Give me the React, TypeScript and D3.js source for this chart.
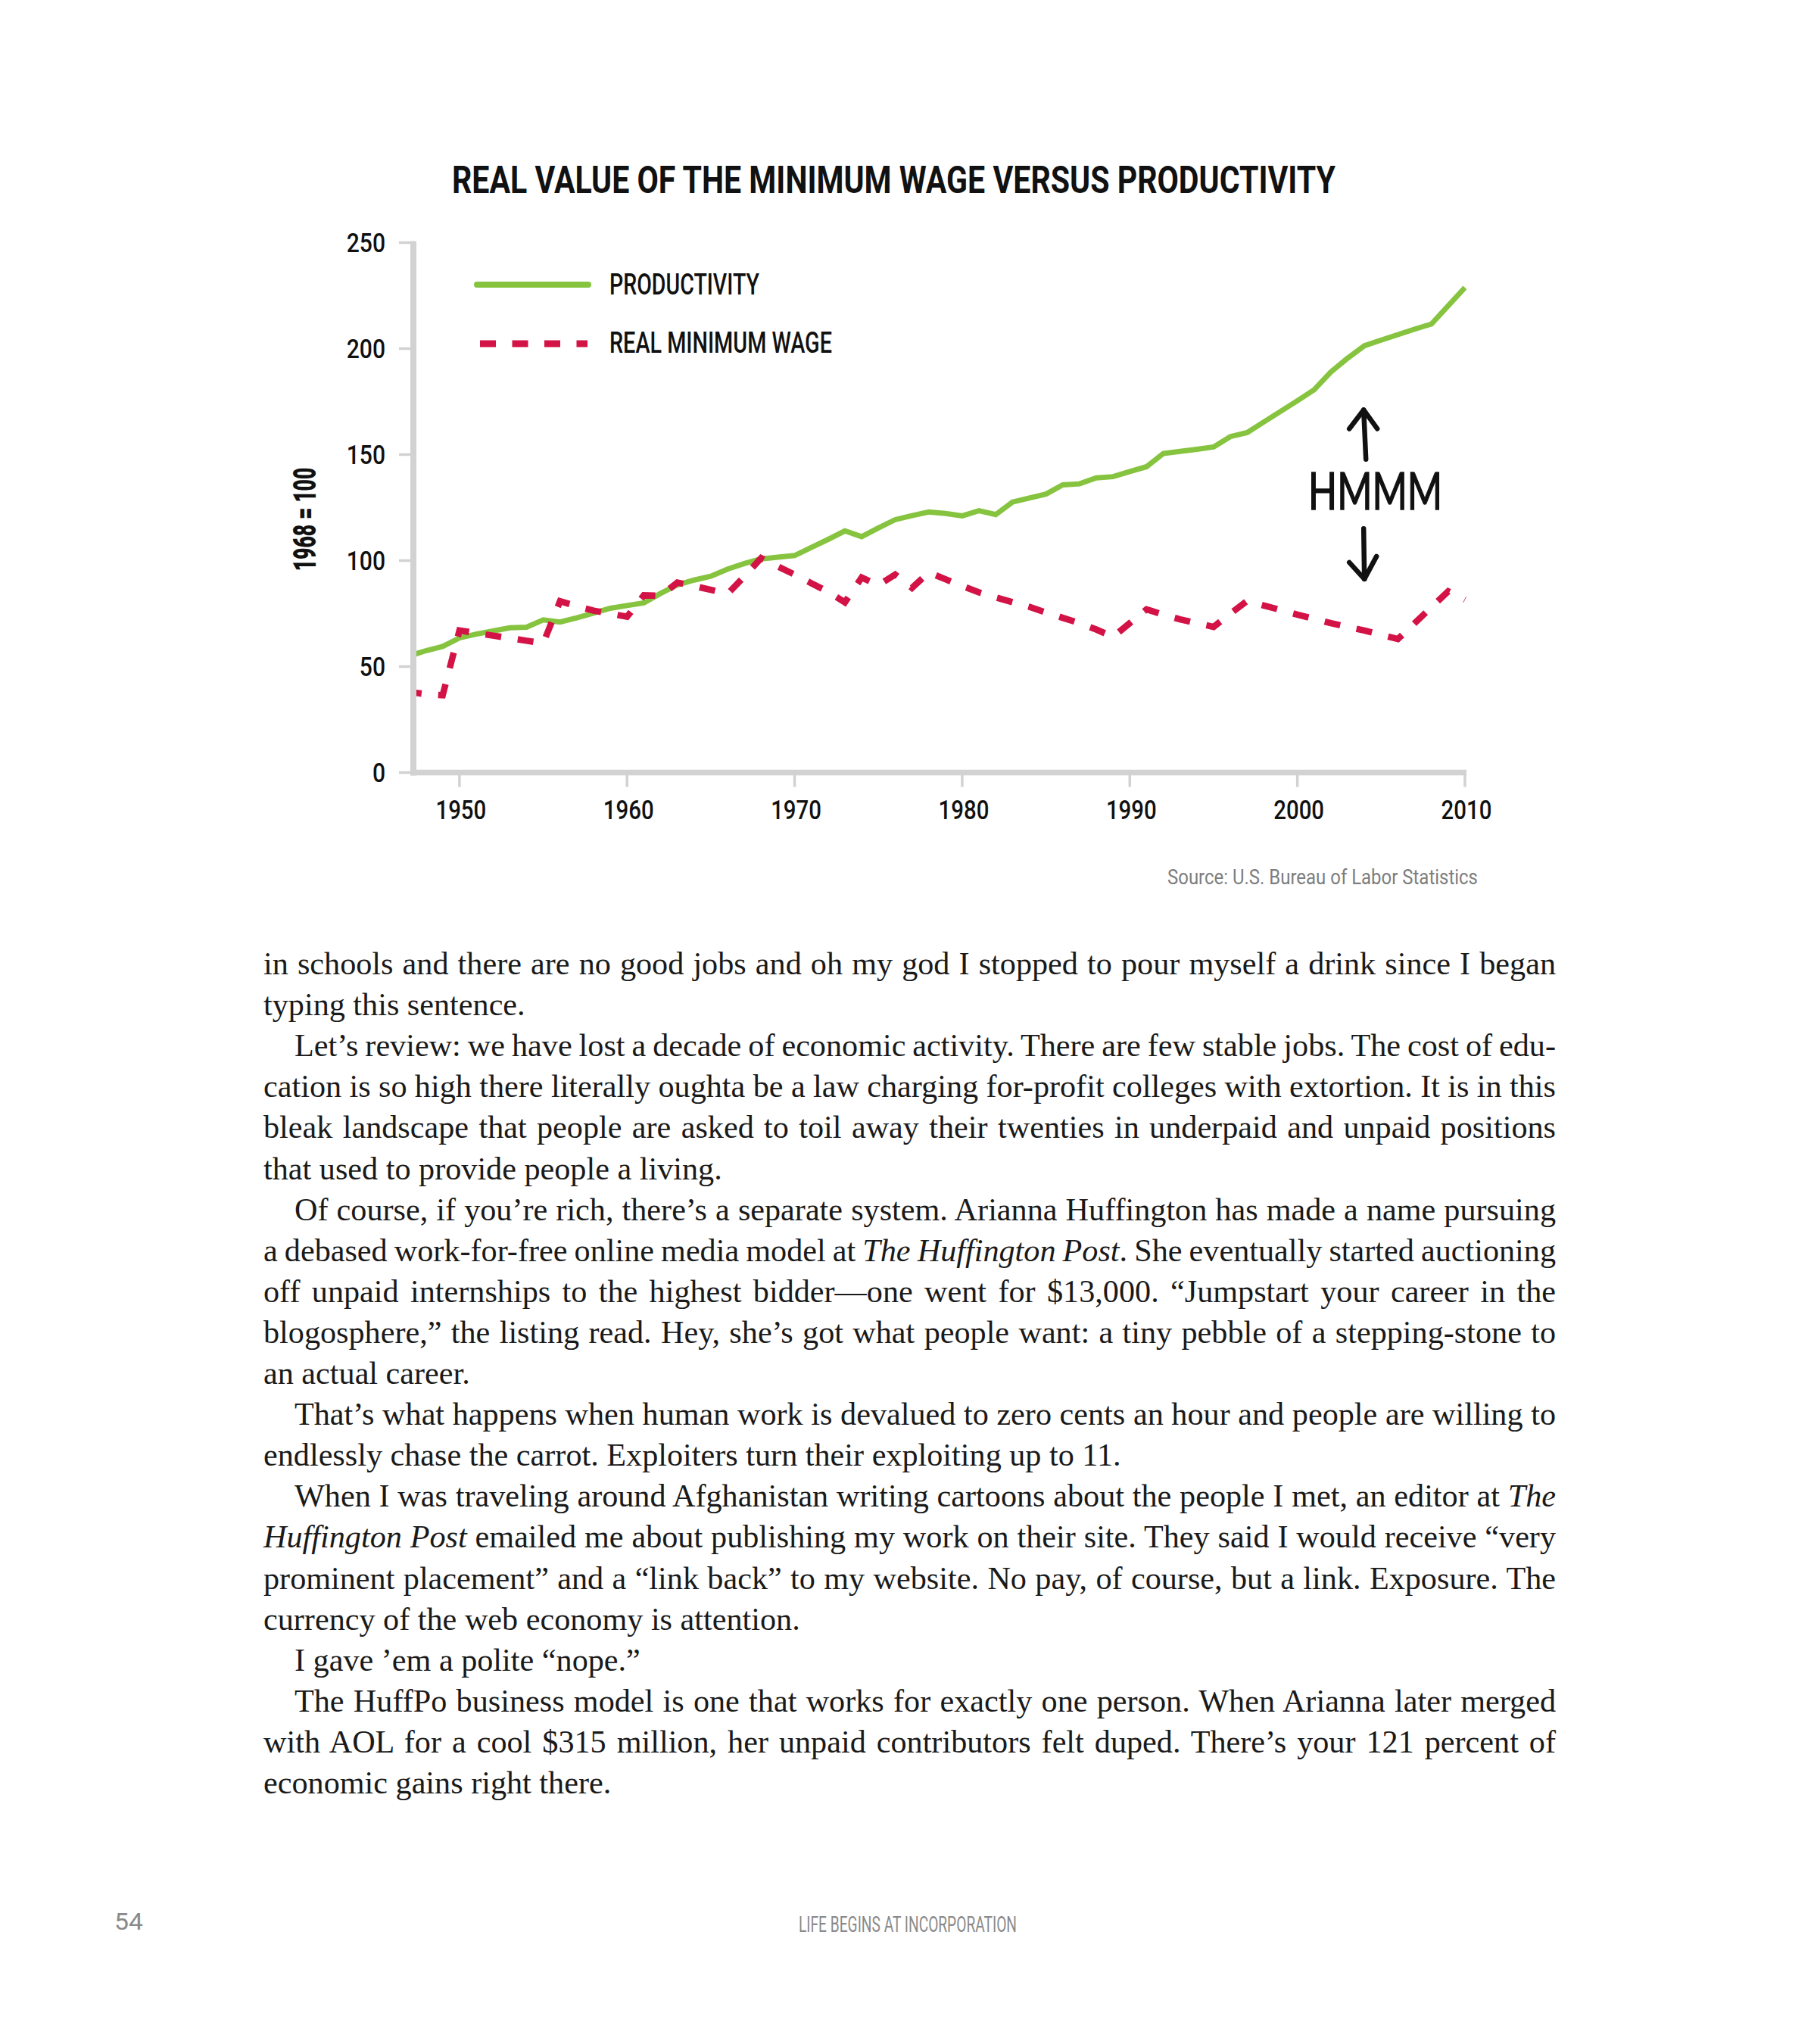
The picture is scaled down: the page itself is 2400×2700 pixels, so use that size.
import React, { useLayoutEffect, useRef } from 'react';
import * as d3 from 'd3';

// ---------------- DATA ----------------
const years = [
  1947, 1948, 1949, 1950, 1951, 1952, 1953, 1954, 1955, 1956,
  1957, 1958, 1959, 1960, 1961, 1962, 1963, 1964, 1965, 1966,
  1967, 1968, 1969, 1970, 1971, 1972, 1973, 1974, 1975, 1976,
  1977, 1978, 1979, 1980, 1981, 1982, 1983, 1984, 1985, 1986,
  1987, 1988, 1989, 1990, 1991, 1992, 1993, 1994, 1995, 1996,
  1997, 1998, 1999, 2000, 2001, 2002, 2003, 2004, 2005, 2006,
  2007, 2008, 2009, 2010,
];

const productivity = [
  55.0, 57.5, 59.5, 63.5, 65.3, 66.8, 68.3, 68.6, 72.0, 71.0,
  73.0, 75.2, 77.5, 78.8, 80.0, 84.5, 88.5, 90.8, 92.6, 96.0,
  98.6, 100.8, 101.6, 102.4, 106.2, 110.0, 114.0, 111.3, 115.4, 119.3,
  121.2, 122.9, 122.2, 121.1, 123.5, 121.7, 127.6, 129.5, 131.4, 135.7,
  136.2, 139.0, 139.6, 142.0, 144.3, 150.5, 151.5, 152.5, 153.6, 158.5,
  160.4, 165.4, 170.4, 175.4, 180.6, 189.0, 195.5, 201.4, 204.0, 206.6,
  209.2, 211.6, 220.2, 228.8,
];

const realMinimumWage = [
  38.0, 37.0, 36.5, 67.0, 65.8, 64.6, 63.4, 62.2, 61.0, 80.8,
  78.5, 76.4, 75.0, 73.5, 83.6, 83.4, 89.6, 88.0, 86.2, 84.3,
  92.5, 101.2, 97.2, 93.4, 89.3, 85.3, 80.3, 92.0, 88.4, 93.4,
  87.1, 94.4, 91.2, 88.0, 85.0, 82.6, 80.4, 78.2, 75.5, 73.0,
  70.5, 67.5, 64.0, 70.5, 77.0, 74.5, 72.3, 70.5, 68.7, 75.0,
  81.0, 78.8, 76.7, 74.5, 72.5, 70.5, 68.7, 67.0, 65.0, 63.0,
  70.5, 78.0, 85.5, 81.5,
];

const yTicks = [0, 50, 100, 150, 200, 250];
const xTicks = [1950, 1960, 1970, 1980, 1990, 2000, 2010];
const seriesNames = ['PRODUCTIVITY', 'REAL MINIMUM WAGE'];
const chartTitle = 'REAL VALUE OF THE MINIMUM WAGE VERSUS PRODUCTIVITY';
const yAxisLabel = '1968 = 100';
const sourceNote = 'Source: U.S. Bureau of Labor Statistics';
const annotationText = 'HMMM';
const footerTitle = 'LIFE BEGINS AT INCORPORATION';
const pageNumber = '54';

// _..._ marks italic
const bodyLines = [
  'in schools and there are no good jobs and oh my god I stopped to pour myself a drink since I began',
  'typing this sentence.',
  'Let’s review: we have lost a decade of economic activity. There are few stable jobs. The cost of edu-',
  'cation is so high there literally oughta be a law charging for-profit colleges with extortion. It is in this',
  'bleak landscape that people are asked to toil away their twenties in underpaid and unpaid positions',
  'that used to provide people a living.',
  'Of course, if you’re rich, there’s a separate system. Arianna Huffington has made a name pursuing',
  'a debased work-for-free online media model at _The Huffington Post_. She eventually started auctioning',
  'off unpaid internships to the highest bidder—one went for $13,000. “Jumpstart your career in the',
  'blogosphere,” the listing read. Hey, she’s got what people want: a tiny pebble of a stepping-stone to',
  'an actual career.',
  'That’s what happens when human work is devalued to zero cents an hour and people are willing to',
  'endlessly chase the carrot. Exploiters turn their exploiting up to 11.',
  'When I was traveling around Afghanistan writing cartoons about the people I met, an editor at _The_',
  '_Huffington Post_ emailed me about publishing my work on their site. They said I would receive “very',
  'prominent placement” and a “link back” to my website. No pay, of course, but a link. Exposure. The',
  'currency of the web economy is attention.',
  'I gave ’em a polite “nope.”',
  'The HuffPo business model is one that works for exactly one person. When Arianna later merged',
  'with AOL for a cool $315 million, her unpaid contributors felt duped. There’s your 121 percent of',
  'economic gains right there.',
];
const paragraphStartLines = [2, 6, 11, 13, 17, 18];
const paragraphEndLines = [1, 5, 10, 12, 16, 17, 20];

// ---------------- STYLE ----------------
const GREEN = '#86C440';
const RED = '#D31245';
const AXIS_GREY = '#D2D2D2';
const SANS = 'Roboto, "Liberation Sans", sans-serif';
const SERIF = '"Liberation Serif", "DejaVu Serif", serif';

function BodyText() {
  const ref = useRef<SVGGElement>(null);
  const left = 348;
  const indent = 41;
  const right = 2055;
  const top = 1287;
  const leading = 54.1;

  useLayoutEffect(() => {
    const justify = () => {
      const g = ref.current;
      if (!g) return;
      g.querySelectorAll('text[data-target]').forEach((node) => {
        const t = node as SVGTextElement;
        const target = +(t.getAttribute('data-target') || 0);
        t.style.wordSpacing = '0px';
        const len = t.getComputedTextLength();
        const spaces = (t.textContent || '').split(' ').length - 1;
        if (spaces > 0) t.style.wordSpacing = `${(target - len) / spaces}px`;
      });
    };
    justify();
    if ((document as any).fonts && (document as any).fonts.ready) {
      (document as any).fonts.ready.then(justify);
    }
  }, []);

  return (
    <g ref={ref} fontFamily={SERIF} fontSize={42.2} fill="#1a1a1a">
      {bodyLines.map((line, i) => {
        const x0 = paragraphStartLines.includes(i) ? left + indent : left;
        const justified = !paragraphEndLines.includes(i);
        const parts = line.split('_');
        return (
          <text
            key={i}
            x={x0}
            y={top + i * leading}
            data-target={justified ? right - x0 : undefined}
          >
            {parts.map((p, k) => (
              <tspan key={k} fontStyle={k % 2 === 1 ? 'italic' : 'normal'}>
                {p}
              </tspan>
            ))}
          </text>
        );
      })}
    </g>
  );
}

export default function App() {
  const x = d3.scaleLinear().domain([1947.25, 2010]).range([546, 1935]);
  const y = d3.scaleLinear().domain([0, 250]).range([1020.5, 320.5]);

  const line = d3
    .line<number>()
    .x((_, i) => x(years[i]))
    .y((d) => y(d));

  const axisLeft = x.range()[0];
  const axisRight = x.range()[1];
  const y0 = y(0);
  const yTop = y(250);

  // annotation anchor positions (data space)
  const annX = x(2004);
  const upTip = y(171.1);
  const upBase = y(147.8);
  const downBase = y(115.1);
  const downTip = y(91.3);

  return (
    <svg
      width={2400}
      height={2700}
      viewBox="0 0 2400 2700"
      style={{ position: 'absolute', left: 0, top: 0, display: 'block', background: '#fff' }}
    >
      <rect x={0} y={0} width={2400} height={2700} fill="#fff" />
      <defs>
        <clipPath id="plotClip">
          <rect x={axisLeft + 4} y={yTop - 40} width={axisRight + 2 - axisLeft - 4} height={y0 - yTop + 36} />
        </clipPath>
      </defs>

      {/* Title */}
      <text
        x={597}
        y={255}
        fontFamily={SANS}
        fontWeight={700}
        fontSize={50}
        fill="#111"
        textLength={1167}
        lengthAdjust="spacingAndGlyphs"
      >
        {chartTitle}
      </text>

      {/* Y axis label */}
      <text
        transform="translate(417,686) rotate(-90)"
        textAnchor="middle"
        fontFamily={SANS}
        fontWeight={900}
        fontSize={42}
        fill="#111"
        textLength={137}
        lengthAdjust="spacingAndGlyphs"
      >
        {yAxisLabel}
      </text>

      {/* Y ticks */}
      {yTicks.map((t) => (
        <g key={`yt${t}`}>
          <line x1={axisLeft - 19} x2={axisLeft} y1={y(t)} y2={y(t)} stroke={AXIS_GREY} strokeWidth={3.5} />
          <text
            transform={`translate(${axisLeft - 37},${y(t) + 12.5}) scale(0.86,1)`}
            textAnchor="end"
            fontFamily={SANS}
            fontWeight={500}
            fontSize={35}
            fill="#111"
          >
            {t}
          </text>
        </g>
      ))}

      {/* X ticks */}
      {xTicks.map((t) => (
        <g key={`xt${t}`}>
          <line x1={x(t)} x2={x(t)} y1={y0} y2={y0 + 19} stroke={AXIS_GREY} strokeWidth={3.5} />
          <text
            transform={`translate(${x(t) + 2},${y0 + 61.5}) scale(0.84,1)`}
            textAnchor="middle"
            fontFamily={SANS}
            fontWeight={500}
            fontSize={35}
            fill="#111"
          >
            {t}
          </text>
        </g>
      ))}

      {/* Axis lines */}
      <line x1={axisLeft} x2={axisLeft} y1={yTop - 2} y2={y0 + 4} stroke={AXIS_GREY} strokeWidth={8} />
      <line x1={axisLeft - 4} x2={axisRight + 2} y1={y0} y2={y0} stroke={AXIS_GREY} strokeWidth={7.5} />

      {/* Data lines */}
      <g clipPath="url(#plotClip)">
        <path
          d={line(productivity) || ''}
          fill="none"
          stroke={GREEN}
          strokeWidth={7}
          strokeLinejoin="miter"
        />
        <path
          d={line(realMinimumWage) || ''}
          fill="none"
          stroke={RED}
          strokeWidth={8.5}
          strokeDasharray="21 22"
          strokeDashoffset={4.5}
          strokeLinejoin="miter"
        />
      </g>

      {/* Legend */}
      <line x1={630} x2={777} y1={376} y2={376} stroke={GREEN} strokeWidth={8} strokeLinecap="round" />
      <text
        x={805}
        y={389}
        fontFamily={SANS}
        fontWeight={500}
        fontSize={39}
        fill="#111"
        textLength={198}
        lengthAdjust="spacingAndGlyphs"
      >
        {seriesNames[0]}
      </text>
      <line x1={634} x2={776} y1={454} y2={454} stroke={RED} strokeWidth={9} strokeDasharray="21 21.5" />
      <text
        x={805}
        y={466}
        fontFamily={SANS}
        fontWeight={500}
        fontSize={39}
        fill="#111"
        textLength={294}
        lengthAdjust="spacingAndGlyphs"
      >
        {seriesNames[1]}
      </text>

      {/* HMMM annotation */}
      <g stroke="#111" strokeWidth={6.5} strokeLinecap="round" strokeLinejoin="round" fill="none">
        <path d={`M${annX + 2},${upBase} L${annX - 1},${upTip}`} />
        <path d={`M${annX - 20},${upTip + 25} L${annX - 1},${upTip} L${annX + 17},${upTip + 25}`} />
        <path d={`M${annX - 1},${downBase} L${annX},${downTip}`} />
        <path d={`M${annX - 20},${downTip - 22} L${annX},${downTip} L${annX + 16},${downTip - 30}`} />
      </g>
      <text
        x={x(2004.65)}
        y={y(124.1)}
        textAnchor="middle"
        fontFamily='Lato, "Open Sans", sans-serif'
        fontWeight={400}
        fontSize={68}
        fill="#111"
        stroke="#111"
        strokeWidth={1.5}
        textLength={177}
        lengthAdjust="spacingAndGlyphs"
      >
        {annotationText}
      </text>

      {/* Source */}
      <text
        x={1542}
        y={1168}
        fontFamily={SANS}
        fontWeight={400}
        fontSize={28}
        fill="#7d7d7d"
        textLength={410}
        lengthAdjust="spacingAndGlyphs"
      >
        {sourceNote}
      </text>

      {/* Body text */}
      <BodyText />

      {/* Footer */}
      <text
        x={151}
        y={2549}
        fontFamily={SANS}
        fontWeight={400}
        fontSize={31}
        fill="#8a8a8a"
        textLength={38}
        lengthAdjust="spacingAndGlyphs"
      >
        {pageNumber}
      </text>
      <text
        x={1055}
        y={2552}
        fontFamily={SANS}
        fontWeight={400}
        fontSize={30}
        fill="#8a8a8a"
        textLength={288}
        lengthAdjust="spacingAndGlyphs"
      >
        {footerTitle}
      </text>
    </svg>
  );
}
